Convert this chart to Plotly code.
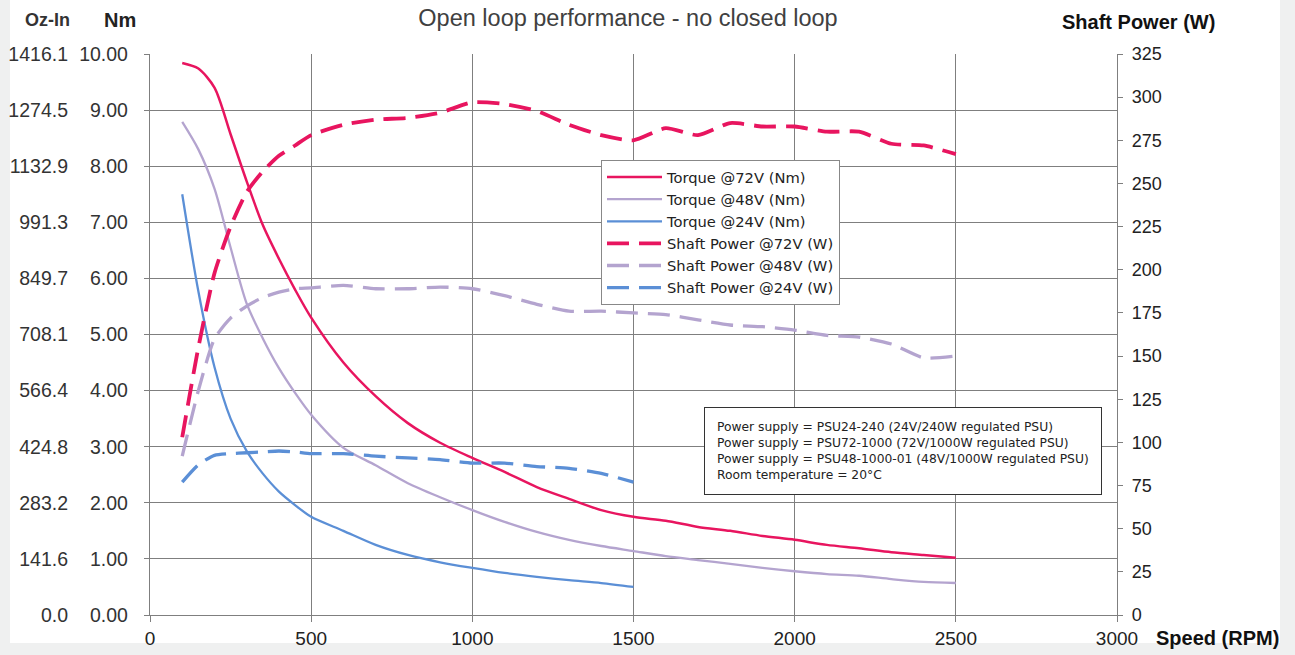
import plotly.graph_objects as go

# ---------------- data ----------------
rpm_72 = [100, 150, 200, 250, 300, 350, 400, 450, 500, 600, 700, 800, 900, 1000, 1100, 1200,
          1300, 1400, 1500, 1600, 1700, 1800, 1900, 2000, 2100, 2200, 2300, 2400, 2500]
torque_72 = [9.84, 9.74, 9.40, 8.57, 7.73, 6.95, 6.35, 5.80, 5.30, 4.50, 3.90, 3.42, 3.07, 2.80,
             2.55, 2.28, 2.07, 1.87, 1.75, 1.68, 1.57, 1.50, 1.41, 1.34, 1.25, 1.19, 1.12, 1.07, 1.02]
power_72 = [103, 155, 198, 225, 245, 257, 266, 272, 278, 284, 287, 288, 291, 297,
            296, 292, 284, 278, 275, 282, 278, 285, 283, 283, 280, 280, 273, 272, 267]

rpm_48 = [100, 150, 200, 250, 300, 350, 400, 450, 500, 600, 700, 800, 900, 1000, 1100, 1200,
          1300, 1400, 1500, 1600, 1700, 1800, 1900, 2000, 2100, 2200, 2300, 2400, 2500]
torque_48 = [8.79, 8.30, 7.60, 6.55, 5.55, 4.93, 4.40, 3.96, 3.57, 2.98, 2.67, 2.35, 2.10, 1.87,
             1.66, 1.48, 1.34, 1.23, 1.14, 1.05, 0.98, 0.91, 0.84, 0.78, 0.73, 0.70, 0.64, 0.59, 0.57]
power_48 = [92, 130, 160, 172, 179, 184, 187, 189, 189.5, 191, 189, 189, 190, 189,
            185, 180, 176, 176, 175, 174, 171, 168, 167, 165, 162, 161, 157, 149, 150]

rpm_24 = [100, 150, 200, 250, 300, 350, 400, 450, 500, 600, 700, 800, 900, 1000, 1100, 1200,
          1300, 1400, 1500]
torque_24 = [7.50, 5.77, 4.42, 3.50, 2.92, 2.52, 2.20, 1.96, 1.75, 1.50, 1.25, 1.07, 0.94, 0.84,
             0.75, 0.68, 0.62, 0.57, 0.50]
power_24 = [77, 87, 92.5, 93.5, 94, 94.5, 95, 94.5, 93.5, 93.5, 92, 91, 90, 88, 88, 86, 85, 82, 77]

nm_ticks = [0, 1, 2, 3, 4, 5, 6, 7, 8, 9, 10]
nm_labels = ["0.00", "1.00", "2.00", "3.00", "4.00", "5.00", "6.00", "7.00", "8.00", "9.00", "10.00"]
ozin_labels = ["0.0", "141.6", "283.2", "424.8", "566.4", "708.1", "849.7", "991.3",
               "1132.9", "1274.5", "1416.1"]
power_ticks = [0, 25, 50, 75, 100, 125, 150, 175, 200, 225, 250, 275, 300, 325]
rpm_ticks = [0, 500, 1000, 1500, 2000, 2500, 3000]

notes = ["Power supply = PSU24-240 (24V/240W regulated PSU)",
         "Power supply = PSU72-1000 (72V/1000W regulated PSU)",
         "Power supply = PSU48-1000-01 (48V/1000W regulated PSU)",
         "Room temperature = 20°C"]

PINK = "#e8155f"
LAV = "#b4a4cf"
BLUE = "#5b8fd6"
FONT = "Liberation Sans"
FONT2 = "DejaVu Sans"
DASH = "22px,10px"

fig = go.Figure()
fig.add_trace(go.Scatter(x=rpm_72, y=torque_72, mode="lines", name="Torque @72V (Nm)",
                         line=dict(color=PINK, width=2.5, shape="spline", smoothing=0.8)))
fig.add_trace(go.Scatter(x=rpm_48, y=torque_48, mode="lines", name="Torque @48V (Nm)",
                         line=dict(color=LAV, width=2.3, shape="spline", smoothing=0.8)))
fig.add_trace(go.Scatter(x=rpm_24, y=torque_24, mode="lines", name="Torque @24V (Nm)",
                         line=dict(color=BLUE, width=2.3, shape="spline", smoothing=0.8)))
fig.add_trace(go.Scatter(x=rpm_72, y=power_72, mode="lines", name="Shaft Power @72V (W)", yaxis="y2",
                         line=dict(color=PINK, width=3.8, dash=DASH, shape="spline", smoothing=0.6)))
fig.add_trace(go.Scatter(x=rpm_48, y=power_48, mode="lines", name="Shaft Power @48V (W)", yaxis="y2",
                         line=dict(color=LAV, width=3.3, dash=DASH, shape="spline", smoothing=0.6)))
fig.add_trace(go.Scatter(x=rpm_24, y=power_24, mode="lines", name="Shaft Power @24V (W)", yaxis="y2",
                         line=dict(color=BLUE, width=3.3, dash=DASH, shape="spline", smoothing=0.6)))
# carrier for Oz-In axis
fig.add_trace(go.Scatter(x=[None], y=[None], yaxis="y3", showlegend=False, hoverinfo="skip"))

GRID = "#7f7f7f"
fig.update_layout(
    width=1295, height=655,
    margin=dict(l=150, r=178, t=54, b=40),
    paper_bgcolor="#eff0f0",
    plot_bgcolor="#d9d9d9",
    font=dict(family=FONT, color="#222222"),
    title=dict(text="Open loop performance - no closed loop", x=628 / 1295, xanchor="center",
               y=1 - 18 / 655, yanchor="middle", font=dict(size=23.5, color="#404040", family=FONT)),
    xaxis=dict(range=[0, 3000], tickvals=rpm_ticks, showgrid=True, gridcolor=GRID, gridwidth=1.3,
               showline=True, linecolor=GRID, linewidth=1.3, ticks="outside", ticklen=6,
               tickcolor=GRID, zeroline=False, ticklabelstandoff=0, automargin=False,
               tickfont=dict(size=19, color="#222222")),
    yaxis=dict(range=[0, 10], tickvals=nm_ticks, ticktext=nm_labels, showgrid=True, gridcolor=GRID,
               gridwidth=1.3, showline=True, linecolor=GRID, linewidth=1.3, ticks="outside",
               ticklen=5, tickcolor=GRID, zeroline=False, ticklabelstandoff=12, automargin=False,
               tickfont=dict(size=19.5, color="#333333")),
    yaxis2=dict(range=[0, 325], tickvals=power_ticks, overlaying="y", side="right", showgrid=False,
                showline=True, linecolor=GRID, linewidth=1.3, ticks="outside", ticklen=5,
                tickcolor=GRID, zeroline=False, ticklabelstandoff=5, automargin=False,
                tickfont=dict(size=18, color="#222222")),
    yaxis3=dict(range=[0, 10], tickvals=nm_ticks, ticktext=ozin_labels, overlaying="y", side="left",
                showgrid=False, showline=False, ticks="", zeroline=False, ticklabelstandoff=81,
                automargin=False, tickfont=dict(size=19.5, color="#333333")),
    legend=dict(x=(601 - 150) / 967, y=(615 - 160) / 561, xanchor="left", yanchor="top",
                bgcolor="white", bordercolor="#888888", borderwidth=1, itemwidth=55,
                font=dict(size=14.7, color="#222222", family=FONT2), tracegroupgap=0),
    shapes=[dict(type="rect", xref="paper", yref="paper", layer="below",
                 x0=-140 / 967, x1=(1280 - 150) / 967, y0=(615 - 643) / 561, y1=(615 + 60) / 561,
                 fillcolor="white", line=dict(width=0))],
    annotations=[
        dict(text="<b>Oz-In</b>", xref="paper", yref="paper", x=(47 - 150) / 967, y=(615 - 20) / 561,
             xanchor="center", yanchor="middle", showarrow=False,
             font=dict(size=18, color="#333333")),
        dict(text="<b>Nm</b>", xref="paper", yref="paper", x=(120 - 150) / 967, y=(615 - 20) / 561,
             xanchor="center", yanchor="middle", showarrow=False,
             font=dict(size=20, color="#222222")),
        dict(text="<b>Shaft Power (W)</b>", xref="paper", yref="paper", x=(1138 - 150) / 967,
             y=(615 - 22) / 561, xanchor="center", yanchor="middle", showarrow=False,
             font=dict(size=20, color="#111111")),
        dict(text="<b>Speed (RPM)</b>", xref="paper", yref="paper", x=(1217 - 150) / 967,
             y=(615 - 638) / 561, xanchor="center", yanchor="middle", showarrow=False,
             font=dict(size=20, color="#111111")),
        dict(text="<br>".join(notes), xref="paper", yref="paper", x=(704 - 150) / 967,
             y=(615 - 407) / 561, xanchor="left", yanchor="top", align="left", showarrow=False,
             bgcolor="white", bordercolor="#333333", borderwidth=1, borderpad=12,
             font=dict(size=12.3, color="#222222", family=FONT2)),
    ],
)

fig.write_html("out.html", config={"displayModeBar": False},
               post_script="document.body.style.margin='0px';")
